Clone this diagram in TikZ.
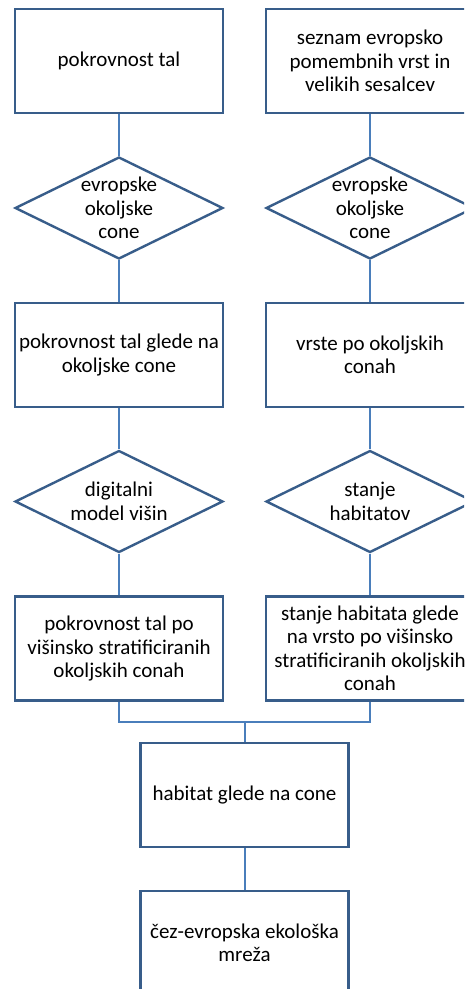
\documentclass[tikz,border=0pt]{standalone}
\usepackage{fontspec}
\setmainfont{Carlito}
\usetikzlibrary{shapes.geometric}
\definecolor{boxblue}{RGB}{56,93,138}
\definecolor{lineblue}{RGB}{74,126,187}
\tikzset{
  stepbox/.style={draw=boxblue, line width=2.4pt, fill=white, rectangle, minimum width=208pt, minimum height=104pt, inner sep=0pt, align=center, font=\fontsize{21}{23.5}\selectfont},
  decbox/.style={draw=boxblue, line width=2.4pt, fill=white, diamond, minimum width=208pt, minimum height=102pt, inner sep=0pt},
  dectext/.style={align=center, inner sep=0pt, font=\fontsize{21}{23.5}\selectfont},
  conn/.style={draw=lineblue, line width=2pt}
}
\begin{document}
\begin{tikzpicture}[x=1pt,y=-1pt]
\useasboundingbox (0,0) rectangle (464,989);
\clip (0,0) rectangle (464,989);
\fill[white] (0,0) rectangle (464,989);
\coordinate (jl) at (119,722);
\coordinate (jr) at (370,722);
\coordinate (jm) at (244.5,722);
% nodes
\node[stepbox] (b1) at (119,61) {pokrovnost tal};
\node[stepbox] (r1) at (370,61) {seznam evropsko\\pomembnih vrst in\\velikih sesalcev};
\node[decbox] (d1) at (119,208) {};
\node[dectext] (t1) at (d1.center) {evropske\\okoljske\\cone};
\node[decbox] (e1) at (370,208) {};
\node[dectext] (u1) at (e1.center) {evropske\\okoljske\\cone};
\node[stepbox] (b2) at (119,355) {pokrovnost tal glede na\\okoljske cone};
\node[stepbox] (r2) at (370,355) {vrste po okoljskih\\conah};
\node[decbox] (d2) at (119,501.5) {};
\node[dectext] (t2) at (d2.center) {digitalni\\model višin};
\node[decbox] (e2) at (370,501.5) {};
\node[dectext] (u2) at (e2.center) {stanje\\habitatov};
\node[stepbox] (b3) at (119,648.5) {pokrovnost tal po\\višinsko stratificiranih\\okoljskih conah};
\node[stepbox] (r3) at (370,648.5) {stanje habitata glede\\na vrsto po višinsko\\stratificiranih okoljskih\\conah};
\node[stepbox] (b4) at (244.5,795) {habitat glede na cone};
\node[stepbox] (b5) at (244.5,943) {čez-evropska ekološka\\mreža};
% connectors
\draw[conn] (b1.south) -- (d1.north);
\draw[conn] (d1.south) -- (b2.north);
\draw[conn] (b2.south) -- (d2.north);
\draw[conn] (d2.south) -- (b3.north);
\draw[conn] (r1.south) -- (e1.north);
\draw[conn] (e1.south) -- (r2.north);
\draw[conn] (r2.south) -- (e2.north);
\draw[conn] (e2.south) -- (r3.north);
\draw[conn] (b3.south) -- (jl) -- (jr) -- (r3.south);
\draw[conn] (jm) -- (b4.north);
\draw[conn] (b4.south) -- (b5.north);
\end{tikzpicture}
\end{document}
